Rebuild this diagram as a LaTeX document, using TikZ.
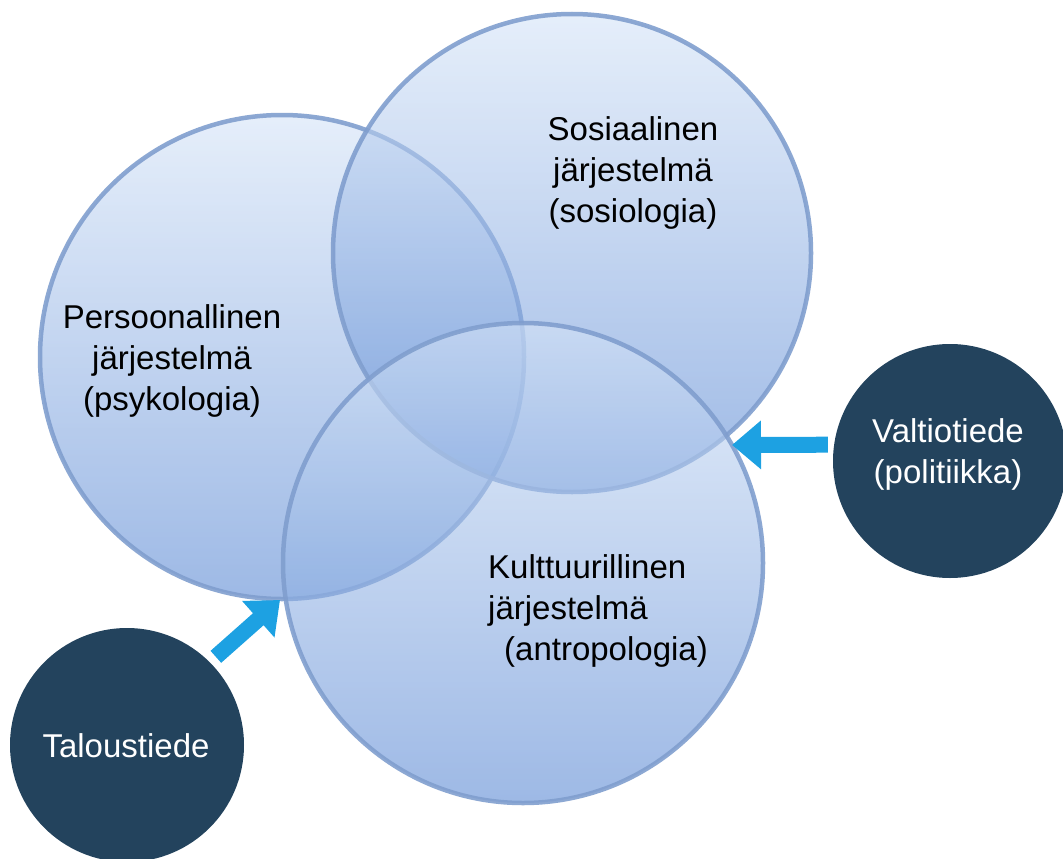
\documentclass[tikz,border=0pt]{standalone}
\usepackage{fontspec}
\setmainfont{Liberation Sans}
\usetikzlibrary{arrows.meta}
\definecolor{ventop}{RGB}{212,227,247}
\definecolor{venbot}{RGB}{92,138,212}
\definecolor{venrim}{RGB}{128,158,206}
\definecolor{navy}{RGB}{35,67,93}
\definecolor{skyarrow}{RGB}{29,161,226}
\tikzset{
  venn/.style={circle, inner sep=0pt, top color=ventop, bottom color=venbot,
    fill opacity=0.6, draw=venrim, draw opacity=0.9, line width=4.5pt},
  field/.style={circle, inner sep=0pt, fill=navy, minimum size=234pt},
  label/.style={inner sep=0pt, font=\fontsize{33}{41}\selectfont},
  darklabel/.style={label, text=white, align=center},
  pointer/.style={draw=skyarrow, line width=16pt,
    -{Triangle[length=29pt,width=47pt]}},
}
\begin{document}
\begin{tikzpicture}[x=1pt,y=-1pt]
\useasboundingbox (0,0) rectangle (1063,859);
% the three overlapping systems
\node[venn, minimum size=484pt] (pers) at (282,357) {};
\node[venn, minimum size=478pt] (sos)  at (572,253) {};
\node[venn, minimum size=480pt] (kult) at (523,563) {};
% their titles
\node[label, align=center, anchor=north] (perstext) at (172,304)
  {Persoonallinen\\järjestelmä\\(psykologia)};
\node[label, align=center, anchor=north] (sostext) at (633,116)
  {Sosiaalinen\\järjestelmä\\(sosiologia)};
\node[label, align=left, anchor=north west] (kulttext) at (488,554)
  {Kulttuurillinen\\järjestelmä\\\hspace*{16pt}(antropologia)};
% neighbouring sciences
\node[field] (valtio) at (950,461) {};
\node[darklabel, anchor=north] (valtiotext) at (948,418)
  {Valtiotiede\\(politiikka)};
\node[field] (talous) at (127,745) {};
\node[label, text=white, anchor=base] (taloustext) at (126,757) {Taloustiede};
% arrows pointing at the circle crossings
\coordinate (tipR) at (732,445);
\coordinate (tipL) at (280,600);
\draw[pointer, shorten <=6pt] (valtio.172) -- (tipR);
\draw[pointer, shorten <=8pt] (talous.45) -- (tipL);
\end{tikzpicture}
\end{document}
